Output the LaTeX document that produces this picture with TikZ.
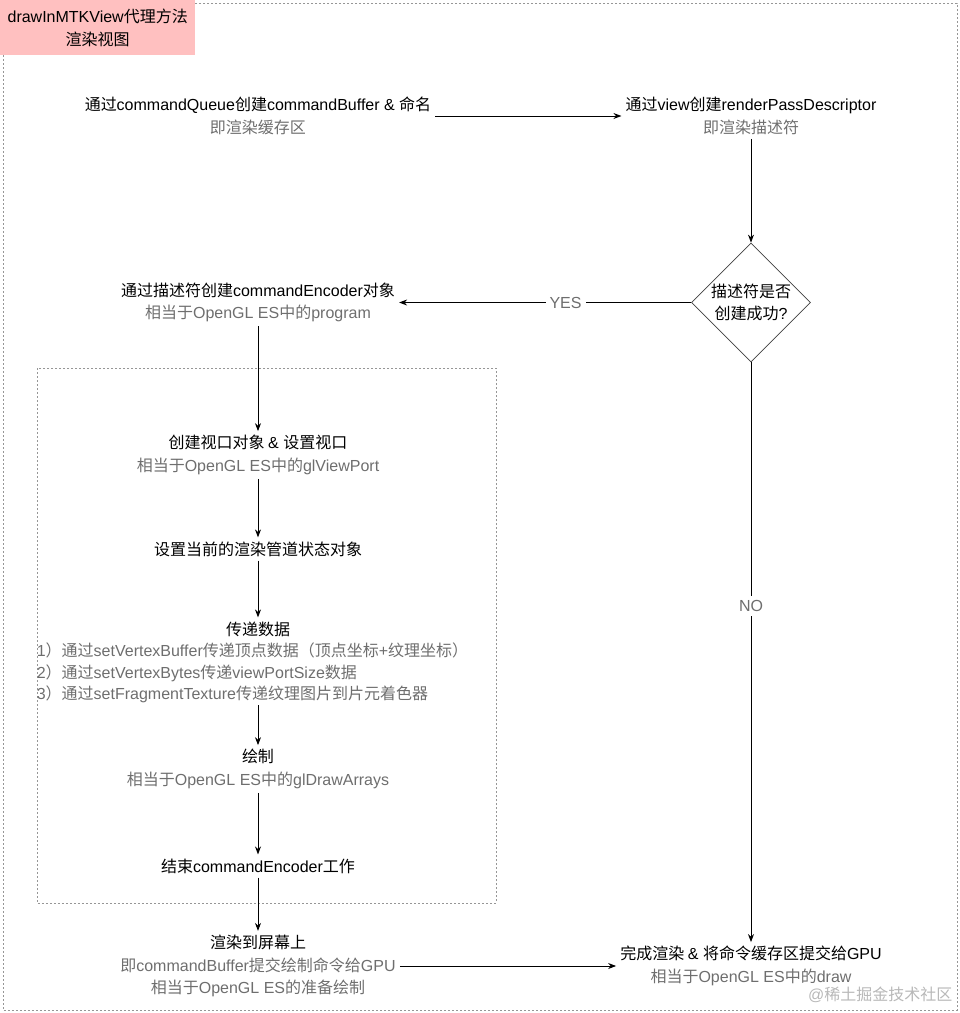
\documentclass[tikz,border=0pt]{standalone}
\usepackage{fontspec}
\setmainfont{Liberation Sans}
\newfontfamily\cjkfont{Noto Sans CJK SC}
% mark ideographs and fullwidth forms as class 1
\newcount\cjkcode
\def\cjkrange#1#2{\cjkcode=#1 \loop \XeTeXcharclass\cjkcode=1 \advance\cjkcode by 1 \ifnum\cjkcode<#2 \repeat}
\cjkrange{"4E00}{"A000}
\cjkrange{"3000}{"3040}
\cjkrange{"FF00}{"FFF0}
% switch to the CJK family on ideographs, back on Latin
\XeTeXinterchartokenstate=1
\XeTeXinterchartoks 0 1 = {\cjkfont}
\XeTeXinterchartoks 4095 1 = {\cjkfont}
\XeTeXinterchartoks 1 0 = {\rmfamily}
\XeTeXinterchartoks 4095 0 = {\rmfamily}
\usetikzlibrary{shapes.geometric, arrows.meta, positioning}
\definecolor{subgray}{RGB}{110,110,110}
\definecolor{titlepink}{RGB}{255,192,192}
\definecolor{framegray}{RGB}{150,150,150}
\newcommand{\subtxt}[1]{\textcolor{subgray}{#1}}
\tikzset{
    stepnode/.style={align=center, font=\fontsize{16}{22.5}\selectfont, inner sep=4pt},
    listnode/.style={align=left, font=\fontsize{16}{21.5}\selectfont, text=subgray, inner sep=2pt},
    decision/.style={diamond, draw=black!75, line width=0.8pt, aspect=1, inner sep=-3pt, minimum size=119pt, align=center, font=\fontsize{16}{22.5}\selectfont},
    titlebox/.style={rectangle, fill=titlepink, minimum width=195pt, minimum height=55pt, align=center, font=\fontsize{16}{22.5}\selectfont},
    frame/.style={draw=framegray, line width=0.6pt, dash pattern=on 2pt off 2pt},
}

\begin{document}
\begin{tikzpicture}[
    x=1pt, y=-1pt,
    flow/.style={-{Stealth[length=8pt, width=6pt]}, black, line width=0.9pt},
    lbl/.style={fill=white, text=subgray, font=\fontsize{16}{18}\selectfont, inner sep=4pt},
    wmark/.style={text=black!28, font=\fontsize{16}{18}\selectfont},
]
\useasboundingbox (0,0) rectangle (960,1013);

% Frames
\draw[frame] (3,3) rectangle (957,1010);
\draw[frame] (37,368) rectangle (496,903);
\node[titlebox, anchor=north west] (title) at (0,0) {drawInMTKView代理方法\\渲染视图};

% Right column
\node[stepnode] (cq) at (258,116) {通过commandQueue创建commandBuffer \& 命名\\\subtxt{即渲染缓存区}};
\node[stepnode] (rp) at (751,116) {通过view创建renderPassDescriptor\\\subtxt{即渲染描述符}};
\node[decision] (chk) at (751,302.5) {描述符是否\\创建成功?};
\node[stepnode] (cmt) at (751,966) {完成渲染 \& 将命令缓存区提交给GPU\\\subtxt{相当于OpenGL ES中的draw}};

% Left column
\node[stepnode] (enc) at (258,302.5) {通过描述符创建commandEncoder对象\\\subtxt{相当于OpenGL ES中的program}};
\node[stepnode] (vp) at (258,455) {创建视口对象 \& 设置视口\\\subtxt{相当于OpenGL ES中的glViewPort}};
\node[stepnode] (pso) at (258,549) {设置当前的渲染管道状态对象};
\node[stepnode] (dt) at (258,629) {传递数据};
\node[listnode] (dl) at (252.5,673) {1）通过setVertexBuffer传递顶点数据（顶点坐标+纹理坐标）\\2）通过setVertexBytes传递viewPortSize数据\\3）通过setFragmentTexture传递纹理图片到片元着色器};
\node[stepnode] (drw) at (258,769) {绘制\\\subtxt{相当于OpenGL ES中的glDrawArrays}};
\node[stepnode] (endenc) at (258,866) {结束commandEncoder工作};
\node[stepnode] (scr) at (258,966) {渲染到屏幕上\\\subtxt{即commandBuffer提交绘制命令给GPU}\\\subtxt{相当于OpenGL ES的准备绘制}};

\node[wmark, anchor=east] (wm) at (956,995) {@稀土掘金技术社区};

% Arrows
\draw[flow] (cq) -- (rp);
\draw[flow] (rp) -- (chk);
\draw[flow] (chk) -- node[lbl, pos=0.43] {YES} (enc);
\draw[flow] (chk) -- node[lbl, pos=0.42] {NO} (cmt);
\draw[flow] (enc) -- (vp);
\draw[flow] (vp) -- (pso);
\draw[flow] (pso) -- (dt);
\draw[flow] (dl.south -| dt.south) -- (drw);
\draw[flow] (drw) -- (endenc);
\draw[flow] (endenc) -- (scr);
\draw[flow] (scr) -- (cmt);

\end{tikzpicture}
\end{document}
